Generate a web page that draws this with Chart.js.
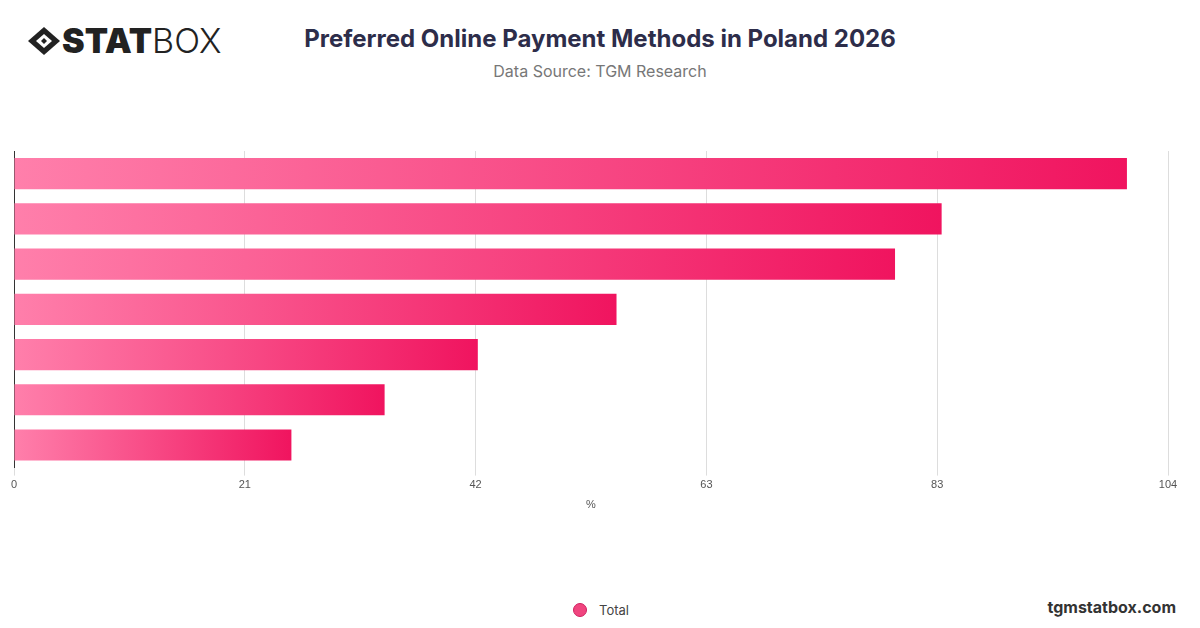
<!DOCTYPE html>
<html><head><meta charset="utf-8">
<script src="https://cdn.jsdelivr.net/npm/chart.js@4"></script>
<style>
body{margin:0;width:1200px;height:628px;background:#fff;font-family:Inter,"Noto Sans",sans-serif;position:relative;overflow:hidden}
#logo{position:absolute;left:26px;top:20px;font-size:34px;color:#222;display:flex;align-items:center}
#logo b{font-weight:900}
#logo span{font-weight:300}
#title{position:absolute;left:0;width:1200px;top:24px;text-align:center;font-size:24px;font-weight:700;color:#2d2d4a}
#sub{position:absolute;left:0;width:1200px;top:61px;text-align:center;font-size:16px;color:#777}
#wrap{position:absolute;left:0;top:0;width:1200px;height:520px}
#leg{position:absolute;left:573px;top:602px;font-size:13px;color:#444;display:flex;align-items:center}
#leg i{display:inline-block;width:14px;height:14px;border-radius:50%;background:#f0457f;margin-right:12px;border:1px solid #d02060;box-sizing:border-box}
#foot{position:absolute;right:24px;top:597px;font-size:16px;font-weight:700;color:#333}
</style></head><body>
<div id="logo"><svg width="36" height="30" viewBox="0 0 36 30"><path d="M18 1 L34 15 L18 29 L2 15 Z" fill="#222"/><path d="M18 8 L26 15 L18 22 L10 15 Z" fill="#fff"/><path d="M18 12 L21 15 L18 18 L15 15Z" fill="#222"/></svg><b>STAT</b><span>BOX</span></div>
<div id="title">Preferred Online Payment Methods in Poland 2026</div>
<div id="sub">Data Source: TGM Research</div>
<div id="wrap"><canvas id="c"></canvas></div>
<div id="leg"><i></i>Total</div>
<div id="foot">tgmstatbox.com</div>
<script>
const categories=["BLIK","Online bank transfer","Cards","PayU","Przelewy24","PayPal","Buy now pay later"];
const values=[100.3,83.6,79.4,54.3,41.8,33.4,25];
const tickLabels=["0","21","42","63","83","104"];
new Chart(document.getElementById('c'),{type:'bar',
data:{labels:categories,datasets:[{label:'Total',data:values,
backgroundColor(ctx){const ch=ctx.chart;const a=ch.chartArea;if(!a||!ch.scales.x)return '#f0457f';
const x1=ch.scales.x.getPixelForValue(ctx.raw);
const g=ch.ctx.createLinearGradient(a.left,0,Math.max(x1,a.left+1),0);
g.addColorStop(0,'#ff7fab');g.addColorStop(1,'#f0145f');return g;},
barPercentage:0.69,categoryPercentage:1}]},
options:{indexAxis:'y',responsive:true,maintainAspectRatio:false,animation:false,
layout:{padding:{top:151,left:14,right:32,bottom:4}},
plugins:{legend:{display:false},tooltip:{enabled:false}},
scales:{x:{min:0,max:104,ticks:{stepSize:20.8,color:'#555',font:{size:11},callback:(v,i)=>tickLabels[i]},
grid:{color:'#ddd',drawTicks:true,tickLength:8},border:{display:false},
title:{display:true,text:'%',color:'#555',font:{size:11}}},
y:{ticks:{display:false},grid:{display:false,drawTicks:false},border:{display:true,color:'#333',width:1}}}}});
</script></body></html>
